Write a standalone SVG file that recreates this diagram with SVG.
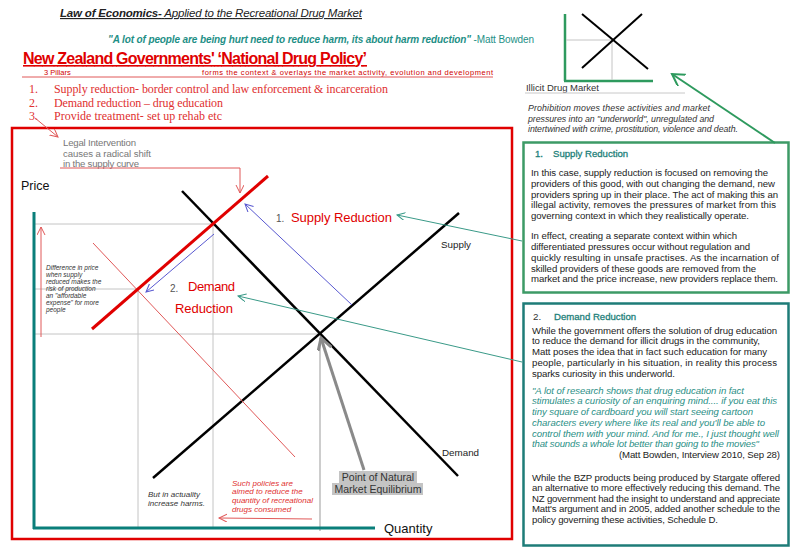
<svg xmlns="http://www.w3.org/2000/svg" width="800" height="549" viewBox="0 0 800 549">
<defs>
<style>
text{font-family:"Liberation Sans",Arial,sans-serif;}
.serif text{font-family:"Liberation Serif","Times New Roman",serif;}
.body{font-size:9.6px;fill:#222;}
.quote{font-size:9.6px;fill:#2a8f86;font-style:italic;}
.grid{stroke:#c4c4c4;stroke-width:1;fill:none;}
.redthin{stroke:#e05858;stroke-width:1;fill:none;}
.blue{stroke:#5858d0;stroke-width:1;fill:none;}
.teal{stroke:#3a9a88;stroke-width:1;fill:none;}
.ttl{font-size:9.6px;fill:#1e7f7a;stroke:#1e7f7a;stroke-width:0.3px;}
.lbl{fill:#e00000;font-size:13px;}
</style>
<marker id="mRed" markerUnits="userSpaceOnUse" markerWidth="10" markerHeight="10" refX="8" refY="4" orient="auto"><path d="M0,0 L8,4 L0,8" fill="none" stroke="#e05858" stroke-width="1"/></marker>
<marker id="mBlue" markerUnits="userSpaceOnUse" markerWidth="10" markerHeight="10" refX="8" refY="4" orient="auto"><path d="M0,0 L8,4 L0,8" fill="none" stroke="#5858d0" stroke-width="1"/></marker>
<marker id="mTeal" markerUnits="userSpaceOnUse" markerWidth="10" markerHeight="10" refX="8" refY="4" orient="auto"><path d="M0,0 L8,4 L0,8" fill="none" stroke="#3a9a88" stroke-width="1"/></marker>
<marker id="mGreen" markerUnits="userSpaceOnUse" markerWidth="16" markerHeight="16" refX="12" refY="7" orient="auto"><path d="M0,0 L12,7 L0,14" fill="none" stroke="#2e9a5e" stroke-width="2"/></marker>
<marker id="mGray" markerUnits="userSpaceOnUse" markerWidth="16" markerHeight="16" refX="12" refY="7" orient="auto"><path d="M0,0 L12,7 L0,14" fill="none" stroke="#8a8a8a" stroke-width="3"/></marker>
</defs>
<rect width="800" height="549" fill="#ffffff"/>

<g id="header">
<text x="60" y="17" font-size="11.5" font-style="italic" fill="#222" text-decoration="underline" textLength="302"><tspan font-weight="bold">Law of Economics-</tspan> Applied to the Recreational Drug Market</text>
<text x="108" y="43" font-size="10" fill="#1e8f86" textLength="426"><tspan font-style="italic" font-weight="bold">"A lot of people are being hurt need to reduce harm, its about harm reduction"</tspan> -Matt Bowden</text>
</g>

<g id="policy">
<text x="23" y="64" font-size="16" font-weight="bold" fill="#e00000" text-decoration="underline" textLength="344">New Zealand Governments' ‘National Drug Policy’</text>
<text x="44" y="75" font-size="7.5" fill="#d00000">3 Pillars</text>
<text x="202" y="75" font-size="7.5" fill="#d00000" textLength="291">forms the context &amp; overlays the market activity, evolution and development</text>
<line x1="22" y1="77" x2="493" y2="77" stroke="#e05858" stroke-width="1"/>
<g class="serif" font-size="12" fill="#e03030">
<text x="29" y="93">1.</text><text x="54" y="93" textLength="334">Supply reduction- border control and law enforcement &amp; incarceration</text>
<text x="29" y="107">2.</text><text x="54" y="107" textLength="169">Demand reduction – drug education</text>
<text x="29" y="120">3.</text><text x="54" y="120" textLength="168">Provide treatment- set up rehab etc</text>
</g>
</g>

<g id="topchart">
<line x1="565" y1="14" x2="565" y2="81" stroke="#2e9a5e" stroke-width="2.5"/>
<line x1="564" y1="81" x2="653" y2="81" stroke="#2e9a5e" stroke-width="2.5"/>
<line x1="566" y1="40" x2="612" y2="40" class="grid"/>
<line x1="612" y1="40" x2="612" y2="80" class="grid"/>
<line x1="582" y1="14" x2="648" y2="69" stroke="#000" stroke-width="2"/>
<line x1="582" y1="68" x2="642" y2="14" stroke="#000" stroke-width="2"/>
<text x="526" y="91" font-size="9.5" fill="#333" textLength="73">Illicit Drug Market</text>
<line x1="525" y1="93" x2="685" y2="93" stroke="#c8c8c8" stroke-width="1"/>
<g font-size="8.8" font-style="italic" fill="#333">
<text x="528" y="111" textLength="182">Prohibition moves these activities and market</text>
<text x="528" y="122" textLength="186">pressures into an "underworld", unregulated and</text>
<text x="528" y="132" textLength="210">intertwined with crime, prostitution, violence and death.</text>
</g>
</g>

<g id="chart">
<rect x="12" y="128" width="500" height="411" fill="none" stroke="#e00000" stroke-width="2.5"/>
<g font-size="9.6" fill="#777">
<text x="63" y="146" textLength="73">Legal Intervention</text>
<text x="63" y="157" textLength="88">causes a radical shift</text>
<text x="63" y="167" textLength="76">in the supply curve</text>
</g>
<text x="21" y="190" font-size="12.5" fill="#111">Price</text>
<text x="384" y="533" font-size="13" fill="#111">Quantity</text>
<line x1="35" y1="224" x2="213" y2="224" class="grid"/>
<line x1="35" y1="289" x2="138" y2="289" class="grid"/>
<line x1="35" y1="334" x2="320" y2="334" class="grid"/>
<line x1="138" y1="289" x2="138" y2="528" class="grid"/>
<line x1="213" y1="224" x2="213" y2="528" class="grid"/>
<line x1="320" y1="338" x2="320" y2="531" stroke="#bdbdbd" stroke-width="1.5"/>
<line x1="34" y1="212" x2="34" y2="529" stroke="#0a7f7a" stroke-width="3"/>
<line x1="33" y1="528" x2="375" y2="528" stroke="#0a7f7a" stroke-width="3"/>
<line x1="182" y1="191" x2="458" y2="476" stroke="#000" stroke-width="2.5"/>
<line x1="153" y1="478" x2="459" y2="213" stroke="#000" stroke-width="2.5"/>
<line x1="93" y1="243" x2="295" y2="457" stroke="#e05858" stroke-width="1"/>
<line x1="92" y1="329" x2="268" y2="176" stroke="#e00000" stroke-width="3"/>
<text x="276" y="222" font-size="10" fill="#555">1.</text>
<text x="291" y="222" class="lbl" textLength="101">Supply Reduction</text>
<text x="170" y="292" font-size="10" fill="#555">2.</text>
<text x="188" y="291" class="lbl" textLength="47">Demand</text>
<text x="175" y="313" class="lbl" textLength="58">Reduction</text>
<text x="441" y="248" font-size="9.8" fill="#222">Supply</text>
<text x="442" y="456" font-size="9.8" fill="#222">Demand</text>
<g font-size="6.5" font-style="italic" fill="#333">
<text x="46" y="270">Difference in price</text>
<text x="46" y="277">when supply</text>
<text x="46" y="284">reduced makes the</text>
<text x="46" y="291">risk of production</text>
<text x="46" y="298">an "affordable</text>
<text x="46" y="305">expense" for more</text>
<text x="46" y="312">people</text>
</g>
<g font-size="8" font-style="italic" fill="#e03030">
<text x="232" y="486">Such policies are</text>
<text x="232" y="494">aimed to reduce the</text>
<text x="232" y="503">quantity of recreational</text>
<text x="232" y="512">drugs consumed</text>
</g>
<g font-size="8" font-style="italic" fill="#333">
<text x="148" y="497">But in actuality</text>
<text x="148" y="506">increase harms.</text>
</g>
<rect x="339" y="471" width="78" height="12" fill="#c4c4c4"/>
<rect x="332" y="483" width="91" height="12" fill="#c4c4c4"/>
<g font-size="10.5" fill="#333" text-anchor="middle">
<text x="378" y="481">Point of Natural</text>
<text x="378" y="493">Market Equilibrium</text>
</g>
</g>

<g id="box1">
<rect x="523.5" y="142.5" width="265" height="150" fill="#fff" stroke="#3d9a66" stroke-width="2.5"/>
<text x="535" y="157" class="ttl">1.</text>
<text x="553" y="157" class="ttl">Supply Reduction</text>
<g class="body">
<text x="531" y="176" textLength="237">In this case, supply reduction is focused on removing the</text>
<text x="531" y="187" textLength="244">providers of this good, with out changing the demand, new</text>
<text x="531" y="198" textLength="247">providers spring up in their place. The act of making this an</text>
<text x="531" y="208" textLength="245">illegal activity, removes the pressures of market from this</text>
<text x="531" y="219" textLength="218">governing context in which they realistically operate.</text>
<text x="531" y="239" textLength="206">In effect, creating a separate context within which</text>
<text x="531" y="250" textLength="219">differentiated pressures occur without regulation and</text>
<text x="531" y="261" textLength="248">quickly resulting in unsafe practises. As the incarnation of</text>
<text x="531" y="272" textLength="225">skilled providers of these goods are removed from the</text>
<text x="531" y="282" textLength="247">market and the price increase, new providers replace them.</text>
</g>
</g>

<g id="box2">
<rect x="523.5" y="303.5" width="265" height="242" fill="#fff" stroke="#1e7c78" stroke-width="2.5"/>
<text x="533" y="320" font-size="9.8" fill="#333">2.</text>
<text x="554" y="320" class="ttl">Demand Reduction</text>
<g class="body">
<text x="532" y="334" textLength="245">While the government offers the solution of drug education</text>
<text x="532" y="344" textLength="228">to reduce the demand for illicit drugs in the community,</text>
<text x="532" y="355" textLength="235">Matt poses the idea that in fact such education for many</text>
<text x="532" y="366" textLength="245">people, particularly in his situation, in reality this process</text>
<text x="532" y="377" textLength="143">sparks curiosity in this underworld.</text>
</g>
<g class="quote">
<text x="532" y="394" textLength="212">"A lot of research shows that drug education in fact</text>
<text x="532" y="404" textLength="245">stimulates a curiosity of an enquiring mind.... if you eat this</text>
<text x="532" y="415" textLength="221">tiny square of cardboard you will start seeing cartoon</text>
<text x="532" y="426" textLength="233">characters every where like its real and you'll be able to</text>
<text x="532" y="437" textLength="247">control them with your mind. And for me., I just thought well</text>
<text x="532" y="447" textLength="227">that sounds a whole lot better than going to the movies"</text>
</g>
<g class="body">
<text x="619" y="458" textLength="161">(Matt Bowden, Interview 2010, Sep 28)</text>
<text x="532" y="481" textLength="248">While the BZP products being produced by Stargate offered</text>
<text x="532" y="491" textLength="248">an alternative to more effectively reducing this demand. The</text>
<text x="532" y="502" textLength="248">NZ government had the insight to understand and appreciate</text>
<text x="532" y="512" textLength="248">Matt's argument and in 2005, added another schedule to the</text>
<text x="532" y="523" textLength="186">policy governing these activities, Schedule D.</text>
</g>
</g>

<g id="connectors">
<line x1="35" y1="118" x2="58" y2="137" class="redthin" marker-end="url(#mRed)"/>
<path d="M60,168 H240 V193" class="redthin" marker-end="url(#mRed)"/>
<line x1="41" y1="337" x2="41" y2="227" class="redthin" marker-end="url(#mRed)"/>
<line x1="312" y1="519" x2="219" y2="518" class="redthin" marker-end="url(#mRed)"/>
<line x1="352" y1="305" x2="245" y2="204" class="blue" marker-end="url(#mBlue)"/>
<line x1="214" y1="234" x2="146" y2="292" class="blue" marker-end="url(#mBlue)"/>
<line x1="522" y1="241" x2="397" y2="215" class="teal" marker-end="url(#mTeal)"/>
<line x1="522" y1="362" x2="238" y2="296" class="teal" marker-end="url(#mTeal)"/>
<line x1="775" y1="143" x2="672" y2="74" stroke="#2e9a5e" stroke-width="2" fill="none" marker-end="url(#mGreen)"/>
<line x1="364" y1="470" x2="321" y2="338" stroke="#8a8a8a" stroke-width="3" fill="none" marker-end="url(#mGray)"/>
</g>
</svg>
